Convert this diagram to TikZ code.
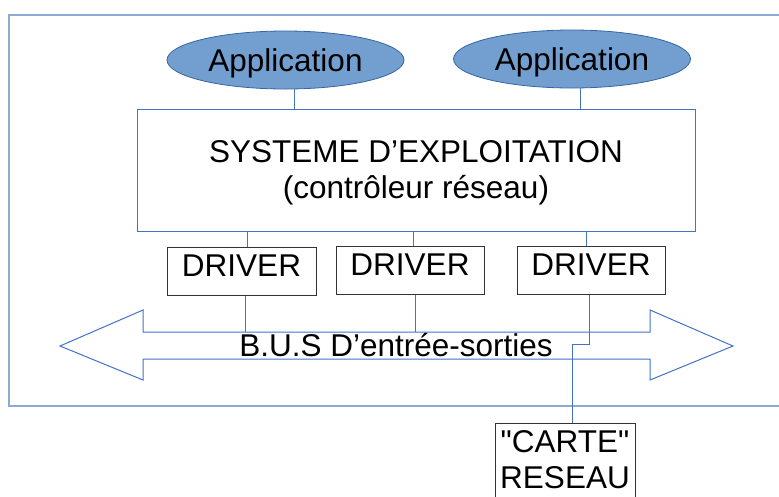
\documentclass[tikz,border=0pt]{standalone}
\usepackage{fontspec}
\setmainfont{Liberation Sans}
% same face without the TeX quote mapping, for straight double quotes
\newfontfamily\straightsans{Liberation Sans}
\definecolor{framec}{HTML}{8FAAD2}
\definecolor{linkc}{HTML}{4472C4}
\definecolor{appfill}{HTML}{729FCF}
\definecolor{appedge}{HTML}{3465A4}
\definecolor{boxedge}{HTML}{333333}
\tikzset{
  x=1pt, y=-1pt,
  every node/.style={font=\fontsize{31.5}{36}\selectfont, text=black},
  appnode/.style={ellipse, draw=appedge, fill=appfill, line width=0.8pt,
    minimum width=237pt, minimum height=58pt, inner sep=0pt, text depth=0pt},
  osbox/.style={rectangle, draw=linkc, line width=1pt, inner sep=0pt,
    minimum width=558pt, minimum height=122pt},
  drvbox/.style={rectangle, draw=boxedge, line width=1pt, inner sep=0pt,
    minimum width=148pt, minimum height=48pt, text height=22pt, text depth=11pt},
  link/.style={draw=linkc, line width=1pt},
  busline/.style={draw=linkc, line width=1pt, line join=miter},
}
\usetikzlibrary{shapes.geometric}
\begin{document}
\begin{tikzpicture}
  \useasboundingbox (0,0) rectangle (779,496);
  \clip (0,0) rectangle (779,496);

  % outer frame, open on the right
  \draw[framec, line width=2pt] (790,15) -- (9,15) -- (9,406) -- (790,406);

  % applications
  \node[appnode] (app1) at (285.5,60) {Application};
  \node[appnode] (app2) at (572,59) {Application};

  % operating system
  \node[osbox] (os) at (416,170) {};
  \node[align=center, inner sep=0pt] (ostxt) at (416,173)
    {SYSTEME D’EXPLOITATION\\(contrôleur réseau)};

  % drivers
  \node[drvbox, minimum width=149pt] (drv1) at (241.5,271) {DRIVER};
  \node[drvbox] (drv2) at (410,270) {DRIVER};
  \node[drvbox] (drv3) at (591,270) {DRIVER};

  % I/O bus (double arrow)
  \coordinate (bustop) at (0,332);
  \draw[busline] (60,346) -- (143,310) -- (143,332) -- (650,332) -- (650,310)
    -- (733,346) -- (650,380) -- (650,359) -- (143,359) -- (143,380) -- cycle;
  \node (bus) at (396,345) {B.U.S D’entrée-sorties};

  % network card
  \node[rectangle, draw=boxedge, line width=1pt, minimum width=140pt,
    minimum height=100pt, anchor=north, inner sep=0pt] (carte) at (565,423) {};
  \node[align=center, inner sep=0pt,
    font=\straightsans\fontsize{31.5}{36}\selectfont] (cartetxt) at (565,460)
    {"CARTE"\\RESEAU};

  % connectors
  \draw[link] ([xshift=8.5pt]app1.south) -- ([xshift=8.5pt]app1.south |- os.north);
  \draw[link] ([xshift=8pt]app2.south) -- ([xshift=8pt]app2.south |- os.north);
  \draw[link] ([xshift=5.5pt]drv1.north |- os.south) -- ([xshift=5.5pt]drv1.north);
  \draw[link] ([xshift=3pt]drv2.north |- os.south) -- ([xshift=3pt]drv2.north);
  \draw[link] ([xshift=-5pt]drv3.north |- os.south) -- ([xshift=-5pt]drv3.north);
  \draw[link] ([xshift=3.5pt]drv1.south) -- ([xshift=3.5pt]drv1.south |- bustop);
  \draw[link] ([xshift=5pt]drv2.south) -- ([xshift=5pt]drv2.south |- bustop);
  \draw[link] ([xshift=-2pt]drv3.south) -- ++(0,50) -| ([xshift=7pt]carte.north);
\end{tikzpicture}
\end{document}
